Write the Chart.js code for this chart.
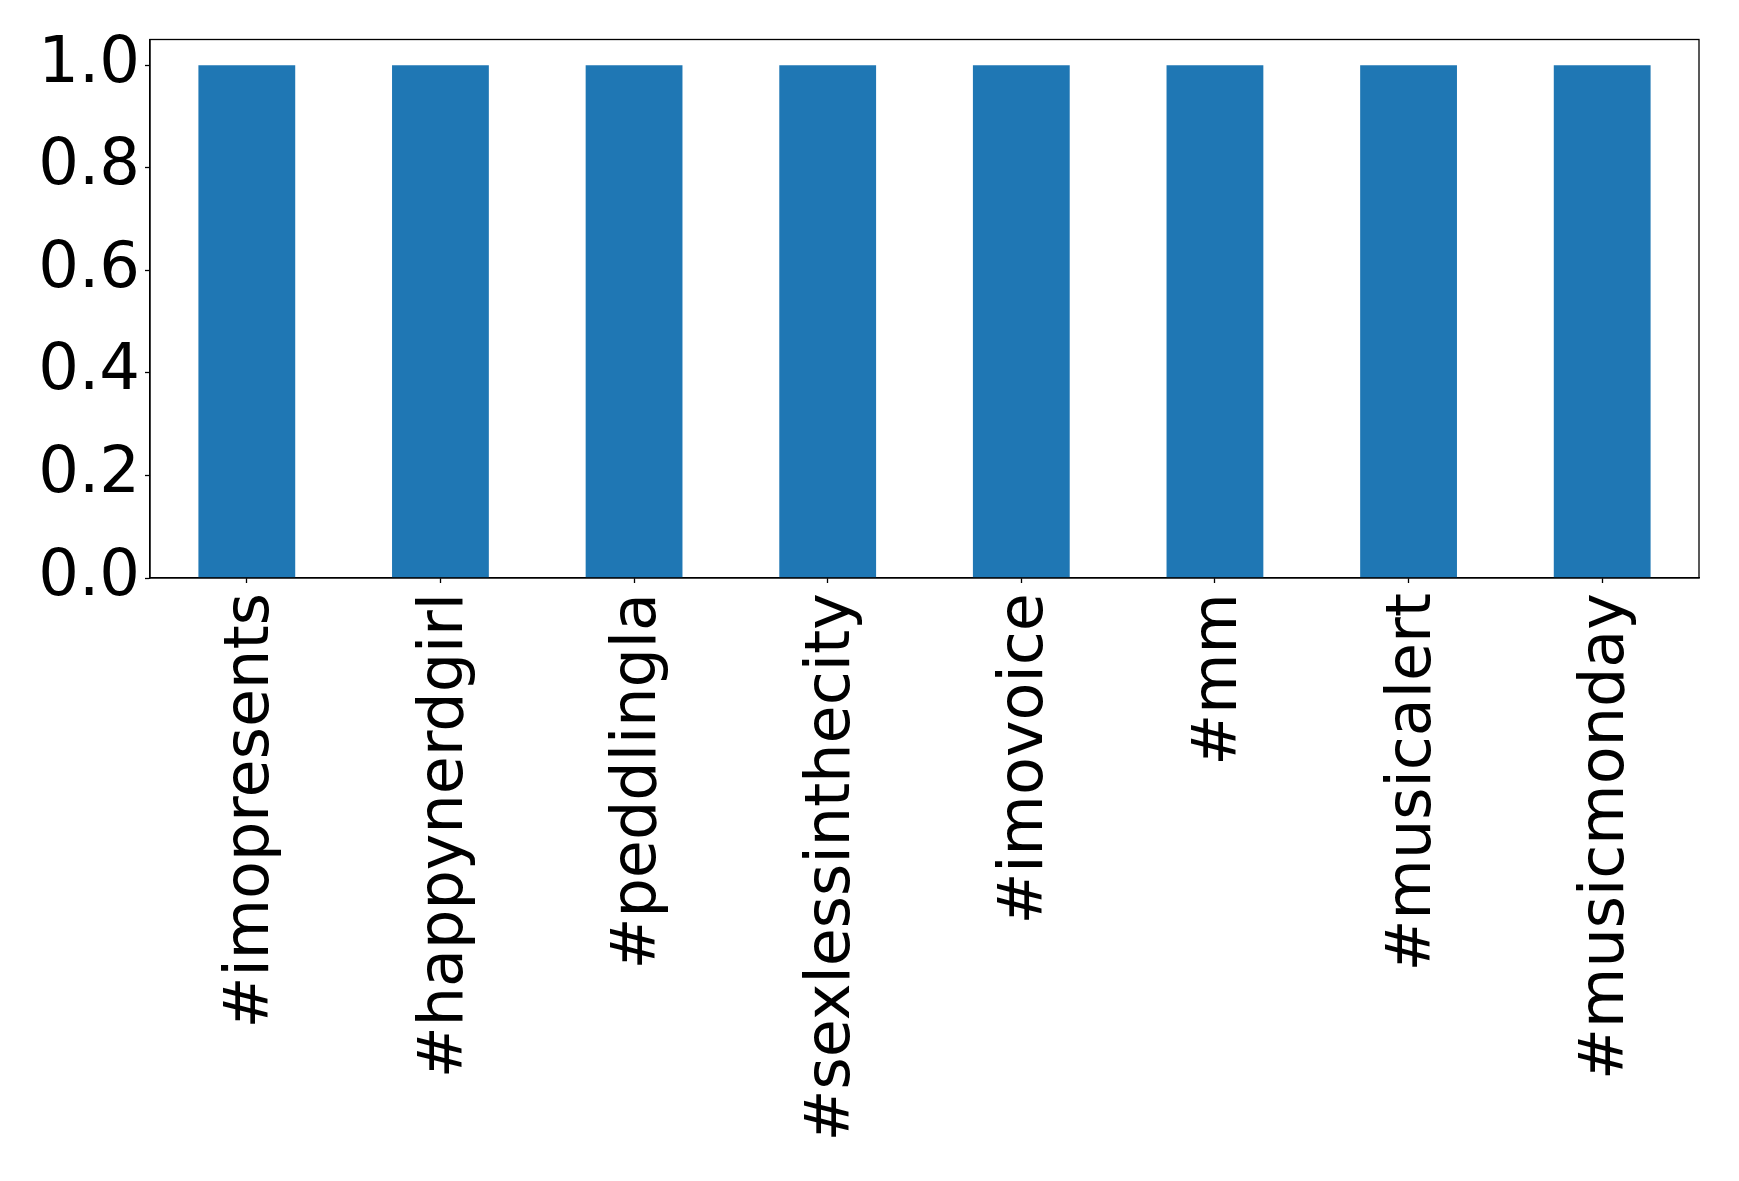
<!DOCTYPE html>
<html>
<head>
<meta charset="utf-8">
<script src="https://cdn.jsdelivr.net/npm/chart.js@4/dist/chart.umd.min.js"></script>
<style>
html,body{margin:0;padding:0;background:#fff;}
#wrap{width:1739px;height:1181px;position:relative;}
</style>
</head>
<body>
<div id="wrap"><canvas id="c" width="1739" height="1181"></canvas></div>
<script>
const categories = ["#imopresents", "#happynerdgirl", "#peddlingla", "#sexlessinthecity", "#imovoice", "#mm", "#musicalert", "#musicmonday"];
const values = [1, 1, 1, 1, 1, 1, 1, 1];
const yTicks = [0.0, 0.2, 0.4, 0.6, 0.8, 1.0];

const framePlugin = {
  id: 'frame',
  afterDraw(chart) {
    const a = chart.chartArea, ctx = chart.ctx;
    ctx.save();
    ctx.strokeStyle = '#000';
    ctx.lineWidth = 1.3;
    ctx.strokeRect(a.left, a.top, a.right - a.left, a.bottom - a.top);
    ctx.restore();
  }
};

new Chart(document.getElementById('c'), {
  type: 'bar',
  data: {
    labels: categories,
    datasets: [{
      data: values,
      backgroundColor: '#1f77b4',
      borderWidth: 0,
      barPercentage: 0.5,
      categoryPercentage: 1.0
    }]
  },
  options: {
    responsive: false,
    animation: false,
    devicePixelRatio: 1,
    layout: { padding: { top: 39.5, right: 40, left: 0, bottom: 0 } },
    plugins: { legend: { display: false }, tooltip: { enabled: false } },
    scales: {
      x: {
        type: 'category',
        offset: true,
        grid: { display: true, offset: false, drawOnChartArea: false, drawTicks: true, tickLength: 5, tickColor: '#000', tickWidth: 1.3 },
        border: { display: true, color: '#000', width: 1.3 },
        ticks: {
          color: '#000',
          font: { family: 'DejaVu Sans', size: 62, lineHeight: 1 },
          minRotation: 90, maxRotation: 90,
          autoSkip: false,
          padding: 10,
          labelOffset: 5
        },
        afterFit(scale) { scale.height = 603; }
      },
      y: {
        min: 0, max: 1.05,
        grid: { display: true, drawOnChartArea: false, drawTicks: true, tickLength: 5, tickColor: '#000', tickWidth: 1.3 },
        border: { display: true, color: '#000', width: 1.3 },
        afterBuildTicks(scale) { scale.ticks = yTicks.map(v => ({ value: v })); },
        ticks: {
          color: '#000',
          font: { family: 'DejaVu Sans', size: 64, lineHeight: 1 },
          padding: 5,
          callback: (v) => Number(v).toFixed(1)
        },
        afterFit(scale) { scale.width = 150; }
      }
    }
  },
  plugins: [framePlugin]
});
</script>
</body>
</html>
